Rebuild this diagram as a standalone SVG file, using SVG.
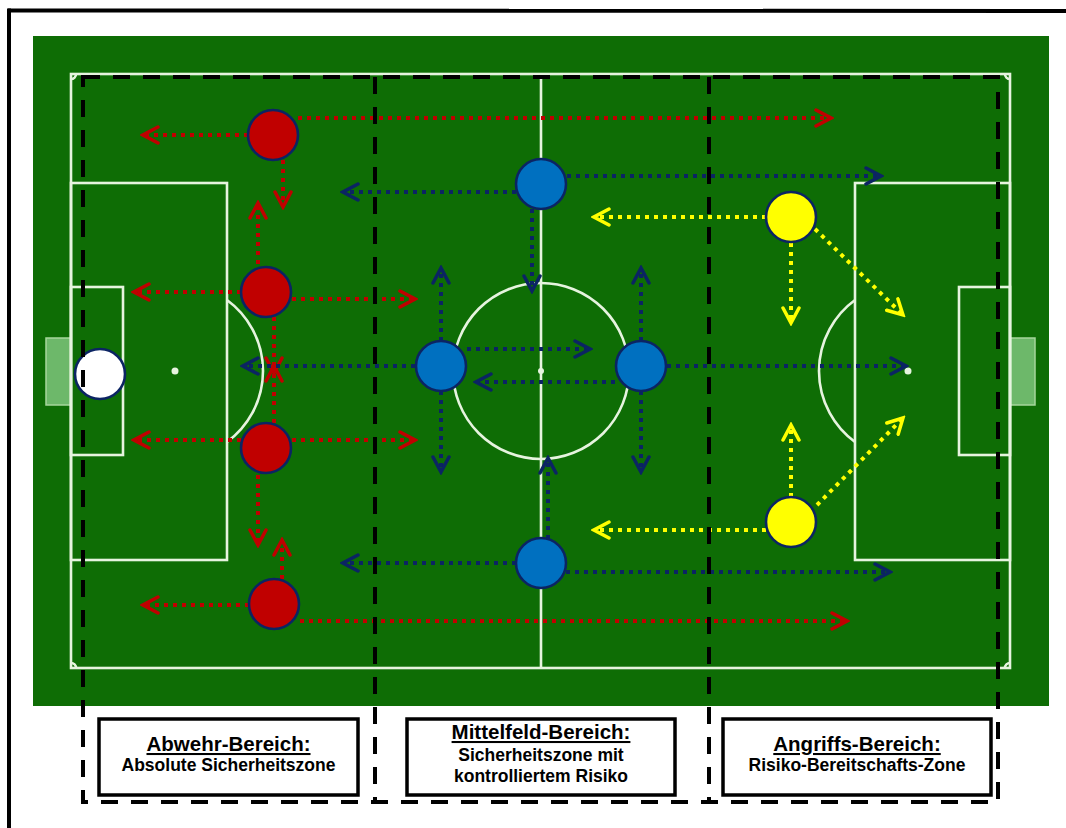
<svg xmlns="http://www.w3.org/2000/svg" width="1066" height="828" viewBox="0 0 1066 828">
<defs>
<style>
.pl{fill:none;stroke:#e6f4df;stroke-width:2.6}
.zone{fill:none;stroke:#000;stroke-width:4;stroke-dasharray:17 13}
.box{fill:#fff;stroke:#000;stroke-width:3.5}
.t{font-family:"Liberation Sans",Arial,sans-serif;font-weight:bold;text-anchor:middle;fill:#000}
.tt{font-size:20.5px;text-decoration:underline}
.ts{font-size:17.5px}
.p{stroke:#0b2463;stroke-width:2.6}
.red{fill:#c00000}.blue{fill:#0070c0}.yel{fill:#ffff00}.wh{fill:#fff}
.ar{fill:none;stroke-width:4;stroke-dasharray:4 5}
.ar.r{stroke:#c00000;marker-end:url(#mr)}
.ar.b{stroke:#0b2463;marker-end:url(#mb)}
.ar.y{stroke:#ffff00;marker-end:url(#my)}
</style>
<marker id="mr" viewBox="0 0 20 20" refX="17" refY="10" markerWidth="20" markerHeight="20" markerUnits="userSpaceOnUse" orient="auto"><path d="M2,2 L17,10 L2,18" fill="none" stroke="#c00000" stroke-width="3.5" stroke-linecap="round" stroke-linejoin="miter"/></marker>
<marker id="mb" viewBox="0 0 20 20" refX="17" refY="10" markerWidth="20" markerHeight="20" markerUnits="userSpaceOnUse" orient="auto"><path d="M2,2 L17,10 L2,18" fill="none" stroke="#0b2463" stroke-width="3.5" stroke-linecap="round" stroke-linejoin="miter"/></marker>
<marker id="my" viewBox="0 0 20 20" refX="17" refY="10" markerWidth="20" markerHeight="20" markerUnits="userSpaceOnUse" orient="auto"><path d="M2,2 L17,10 L2,18" fill="none" stroke="#ffff00" stroke-width="3.5" stroke-linecap="round" stroke-linejoin="miter"/></marker>
<linearGradient id="gb" x1="0" x2="1" y1="0" y2="0"><stop offset="0" stop-color="#888"/><stop offset="1" stop-color="#fff"/></linearGradient>
</defs>
<rect width="1066" height="828" fill="#fff"/>
<g id="frame">
<line x1="8" y1="10.5" x2="1066" y2="11" stroke="#000" stroke-width="4"/>
<line x1="9" y1="8.5" x2="9" y2="828" stroke="#000" stroke-width="4"/>
<line x1="9" y1="826" x2="250" y2="826" stroke="url(#gb)" stroke-width="2"/>
</g>
<g id="pitch">
<rect x="33" y="36" width="1016" height="670" fill="#0e6d05"/>
<rect x="46" y="338" width="25" height="67" fill="#6db86a" stroke="#a6d69c" stroke-width="1.5"/>
<rect x="1010" y="338" width="25" height="67" fill="#6db86a" stroke="#a6d69c" stroke-width="1.5"/>
<rect class="pl" x="71" y="74" width="939" height="594"/>
<line class="pl" x1="541" y1="74" x2="541" y2="668"/>
<circle class="pl" cx="541" cy="371" r="88"/>
<circle cx="541" cy="371" r="3" fill="#e6f4df"/>
<rect class="pl" x="71" y="183" width="156" height="377"/>
<rect class="pl" x="71" y="287" width="52" height="168"/>
<circle cx="175" cy="371" r="3.5" fill="#e6f4df"/>
<path class="pl" d="M227,300 A88,88 0 0 1 227,442"/>
<rect class="pl" x="855" y="183" width="155" height="377"/>
<rect class="pl" x="959" y="287" width="51" height="168"/>
<circle cx="908" cy="371" r="3.5" fill="#e6f4df"/>
<path class="pl" d="M855,300 A88,88 0 0 0 855,442"/>
<path class="pl" stroke-width="1.5" d="M71,79 A5,5 0 0 0 76,74 M1005,74 A5,5 0 0 0 1010,79 M71,663 A5,5 0 0 1 76,668 M1005,668 A5,5 0 0 1 1010,663"/>
</g>
<g id="connectors">
<line class="ar r" x1="248" y1="135" x2="143" y2="135"/>
<line class="ar r" x1="298" y1="118" x2="831" y2="118"/>
<line class="ar r" x1="283" y1="160" x2="283" y2="207"/>
<line class="ar r" x1="258" y1="264" x2="258" y2="203"/>
<line class="ar r" x1="241" y1="292" x2="134" y2="292"/>
<line class="ar r" x1="292" y1="299" x2="415" y2="299"/>
<line class="ar r" x1="274" y1="317" x2="274" y2="373"/>
<line class="ar r" x1="241" y1="440" x2="134" y2="440"/>
<line class="ar r" x1="292" y1="440" x2="415" y2="440"/>
<line class="ar r" x1="258" y1="475" x2="258" y2="545"/>
<line class="ar r" x1="274" y1="423" x2="274" y2="366"/>
<line class="ar r" x1="282" y1="579" x2="282" y2="540"/>
<line class="ar r" x1="249" y1="605" x2="143" y2="605"/>
<line class="ar r" x1="300" y1="621" x2="847" y2="621"/>
<line class="ar b" x1="516" y1="192" x2="343" y2="192"/>
<line class="ar b" x1="567" y1="176" x2="881" y2="176"/>
<line class="ar b" x1="532" y1="209" x2="532" y2="291"/>
<line class="ar b" x1="441" y1="341" x2="441" y2="268"/>
<line class="ar b" x1="441" y1="391" x2="441" y2="472"/>
<line class="ar b" x1="415" y1="366" x2="243" y2="366"/>
<line class="ar b" x1="467" y1="349" x2="590" y2="349"/>
<line class="ar b" x1="615" y1="382" x2="476" y2="382"/>
<line class="ar b" x1="641" y1="341" x2="641" y2="268"/>
<line class="ar b" x1="641" y1="391" x2="641" y2="472"/>
<line class="ar b" x1="667" y1="366" x2="906" y2="366"/>
<line class="ar b" x1="548" y1="539" x2="548" y2="458"/>
<line class="ar b" x1="516" y1="563" x2="343" y2="563"/>
<line class="ar b" x1="566" y1="572" x2="890" y2="572"/>
<line class="ar y" x1="766" y1="217" x2="594" y2="217"/>
<line class="ar y" x1="791" y1="243" x2="791" y2="323"/>
<line class="ar y" x1="815" y1="229" x2="903" y2="315"/>
<line class="ar y" x1="766" y1="530" x2="594" y2="530"/>
<line class="ar y" x1="791" y1="497" x2="791" y2="425"/>
<line class="ar y" x1="817" y1="505" x2="903" y2="418"/>
</g>
<g id="keeper"><circle class="p wh" cx="100" cy="374" r="25"/></g>
<g id="red1"><circle class="p red" cx="273" cy="135" r="25"/></g>
<g id="red2"><circle class="p red" cx="266" cy="292" r="25"/></g>
<g id="red3"><circle class="p red" cx="266" cy="448" r="25"/></g>
<g id="red4"><circle class="p red" cx="274" cy="604" r="25"/></g>
<g id="blue1"><circle class="p blue" cx="541" cy="184" r="25"/></g>
<g id="blue2"><circle class="p blue" cx="441" cy="366" r="25"/></g>
<g id="blue3"><circle class="p blue" cx="641" cy="366" r="25"/></g>
<g id="blue4"><circle class="p blue" cx="541" cy="563" r="25"/></g>
<g id="yellow1"><circle class="p yel" cx="791" cy="217" r="25"/></g>
<g id="yellow2"><circle class="p yel" cx="791" cy="522" r="25"/></g>
<g id="zones">
<rect class="zone" x="83" y="77" width="915" height="725"/>
<line class="zone" x1="375" y1="77" x2="375" y2="802"/>
<line class="zone" x1="709" y1="77" x2="709" y2="802"/>
</g>
<g id="abwehr">
<rect class="box" x="99" y="719" width="259" height="76"/>
<text class="t tt" x="228.5" y="751">Abwehr-Bereich:</text>
<text class="t ts" x="228.5" y="771">Absolute Sicherheitszone</text>
</g>
<g id="mittelfeld">
<rect class="box" x="407" y="719" width="268" height="76"/>
<text class="t tt" x="541" y="739">Mittelfeld-Bereich:</text>
<text class="t ts" x="541" y="761">Sicherheitszone mit</text>
<text class="t ts" x="541" y="782">kontrolliertem Risiko</text>
</g>
<g id="angriff">
<rect class="box" x="723" y="719" width="268" height="76"/>
<text class="t tt" x="857" y="751">Angriffs-Bereich:</text>
<text class="t ts" x="857" y="771">Risiko-Bereitschafts-Zone</text>
</g>
</svg>
